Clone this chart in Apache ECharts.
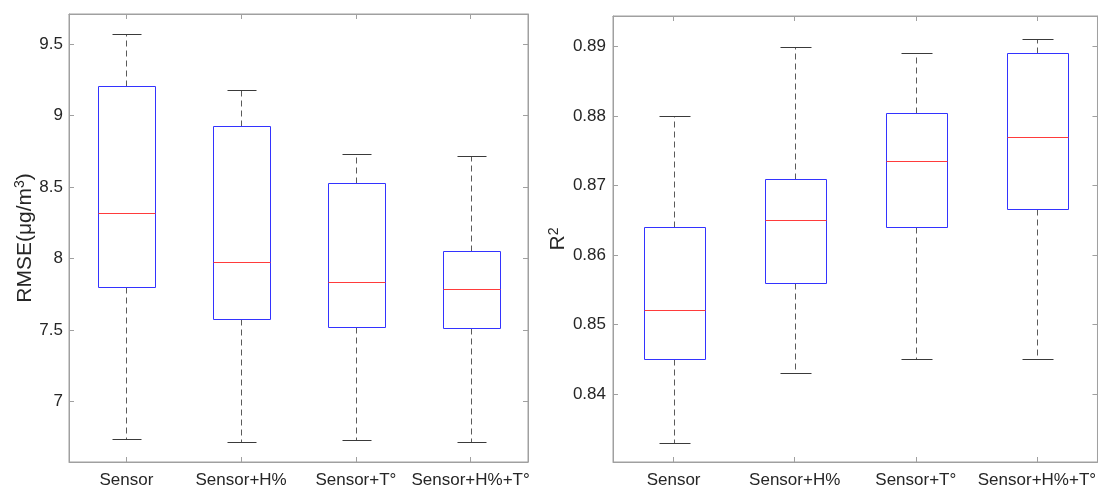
<!DOCTYPE html>
<html>
<head>
<meta charset="utf-8">
<script src="https://cdn.jsdelivr.net/npm/echarts@6/dist/echarts.min.js"></script>
<style>
html,body{margin:0;padding:0;background:#fff;}
#chart{width:1099px;height:489px;}
</style>
</head>
<body>
<div id="chart"></div>
<script>
const categories = ['Sensor', 'Sensor+H%', 'Sensor+T°', 'Sensor+H%+T°'];

const rmseMin = [6.734, 6.713, 6.727, 6.715];
const rmseQ1  = [7.797, 7.577, 7.521, 7.514];
const rmseMed = [8.319, 7.972, 7.832, 7.783];
const rmseQ3  = [9.210, 8.930, 8.529, 8.049];
const rmseMax = [9.572, 9.182, 8.730, 8.720];

const r2Min = [0.8330, 0.8430, 0.8450, 0.8450];
const r2Q1  = [0.8450, 0.8560, 0.8640, 0.8666];
const r2Med = [0.8521, 0.8650, 0.8735, 0.8770];
const r2Q3  = [0.8640, 0.8710, 0.8804, 0.8891];
const r2Max = [0.8800, 0.8900, 0.8891, 0.8911];

const rmseTicks = [7, 7.5, 8, 8.5, 9, 9.5];
const r2Ticks = [0.84, 0.85, 0.86, 0.87, 0.88, 0.89];

const FONT = 'Liberation Sans, Arial, Helvetica, sans-serif';
const FRAME = '#a0a0a0';
const TXT = '#262626';

function rows(mn, q1, md, q3, mx) {
  return categories.map((c, i) => [i, mn[i], q1[i], md[i], q3[i], mx[i]]);
}

function crisp(v) { return Math.round(v) + 0.5; }

function renderBox(params, api) {
  const i = api.value(0);
  const pMin = api.coord([i, api.value(1)]);
  const pQ1 = api.coord([i, api.value(2)]);
  const pMed = api.coord([i, api.value(3)]);
  const pQ3 = api.coord([i, api.value(4)]);
  const pMax = api.coord([i, api.value(5)]);
  const band = api.size([1, 0])[0];
  const bw = band * 0.5;
  const cw = band * 0.25;
  const cx = crisp(pMin[0]);
  const x0 = crisp(cx - bw / 2), x1 = crisp(cx + bw / 2);
  const c0 = crisp(cx - cw / 2), c1 = crisp(cx + cw / 2);
  const yMin = crisp(pMin[1]), yQ1 = crisp(pQ1[1]), yMed = crisp(pMed[1]), yQ3 = crisp(pQ3[1]), yMax = crisp(pMax[1]);
  const dash = { stroke: '#5a5a5a', lineWidth: 1, lineDash: [6, 4] };
  const cap = { stroke: '#3a3a3a', lineWidth: 1 };
  return {
    type: 'group',
    children: [
      { type: 'line', shape: { x1: cx, y1: yQ3, x2: cx, y2: yMax }, style: dash },
      { type: 'line', shape: { x1: cx, y1: yQ1, x2: cx, y2: yMin }, style: dash },
      { type: 'line', shape: { x1: c0, y1: yMax, x2: c1, y2: yMax }, style: cap },
      { type: 'line', shape: { x1: c0, y1: yMin, x2: c1, y2: yMin }, style: cap },
      { type: 'rect', shape: { x: x0, y: yQ3, width: x1 - x0, height: yQ1 - yQ3 },
        style: { fill: 'none', stroke: '#3333ff', lineWidth: 1 } },
      { type: 'line', shape: { x1: x0, y1: yMed, x2: x1, y2: yMed }, style: { stroke: '#ff3b3b', lineWidth: 1 } }
    ]
  };
}

function xAxes(gridIndex) {
  return [
    {
      type: 'category', gridIndex: gridIndex, data: categories, position: 'bottom',
      axisLine: { show: true, lineStyle: { color: FRAME } },
      axisTick: { show: true, inside: true, alignWithLabel: true, interval: 0, length: 5, lineStyle: { color: FRAME } },
      axisLabel: { color: TXT, fontFamily: FONT, fontSize: 17, margin: 10, interval: 0 },
      splitLine: { show: false }
    },
    {
      type: 'category', gridIndex: gridIndex, data: categories, position: 'top',
      axisLine: { show: true, lineStyle: { color: FRAME } },
      axisTick: { show: true, inside: true, alignWithLabel: true, interval: 0, length: 5, lineStyle: { color: FRAME } },
      axisLabel: { show: false, interval: 0 },
      splitLine: { show: false }
    }
  ];
}

function yAxes(gridIndex, min, max, ticks, name, nameGap, margin) {
  return [
    {
      type: 'value', gridIndex: gridIndex, position: 'left', min: min, max: max,
      name: name, nameLocation: 'middle', nameGap: nameGap, nameRotate: 90,
      nameTextStyle: { color: TXT, fontFamily: FONT, fontSize: 21,
        rich: {
          b: { color: TXT, fontFamily: FONT, fontSize: 21 },
          s: { color: TXT, fontFamily: FONT, fontSize: 14, padding: [0, 0, 9, 0] }
        } },
      axisLine: { show: true, lineStyle: { color: FRAME } },
      axisTick: { show: true, inside: true, length: 5, customValues: ticks, lineStyle: { color: FRAME } },
      axisLabel: { color: TXT, fontFamily: FONT, fontSize: 17, margin: margin, customValues: ticks },
      splitLine: { show: false }
    },
    {
      type: 'value', gridIndex: gridIndex, position: 'right', min: min, max: max,
      axisLine: { show: true, lineStyle: { color: FRAME } },
      axisTick: { show: true, inside: true, length: 5, customValues: ticks, lineStyle: { color: FRAME } },
      axisLabel: { show: false, customValues: ticks },
      splitLine: { show: false }
    }
  ];
}

const chart = echarts.init(document.getElementById('chart'), null, { renderer: 'canvas' });
chart.setOption({
  backgroundColor: '#fff',
  animation: false,
  grid: [
    { left: 69, top: 14, width: 459, height: 448, show: true, borderColor: FRAME, borderWidth: 1, backgroundColor: 'transparent' },
    { left: 613, top: 16, width: 485, height: 449, show: true, borderColor: FRAME, borderWidth: 1, backgroundColor: 'transparent' }
  ],
  xAxis: [].concat(xAxes(0), xAxes(1)),
  yAxis: [].concat(
    yAxes(0, 6.575, 9.712, rmseTicks, '{b|RMSE(μg/m}{s|3}{b|)}', 32, 6),
    yAxes(1, 0.8302, 0.8944, r2Ticks, '{b|R}{s|2}', 43, 7)
  ),
  series: [
    { type: 'custom', name: 'RMSE', xAxisIndex: 0, yAxisIndex: 0, renderItem: renderBox,
      encode: { x: 0, y: [1, 2, 3, 4, 5] }, data: rows(rmseMin, rmseQ1, rmseMed, rmseQ3, rmseMax) },
    { type: 'custom', name: 'R2', xAxisIndex: 2, yAxisIndex: 2, renderItem: renderBox,
      encode: { x: 0, y: [1, 2, 3, 4, 5] }, data: rows(r2Min, r2Q1, r2Med, r2Q3, r2Max) }
  ]
});
</script>
</body>
</html>
